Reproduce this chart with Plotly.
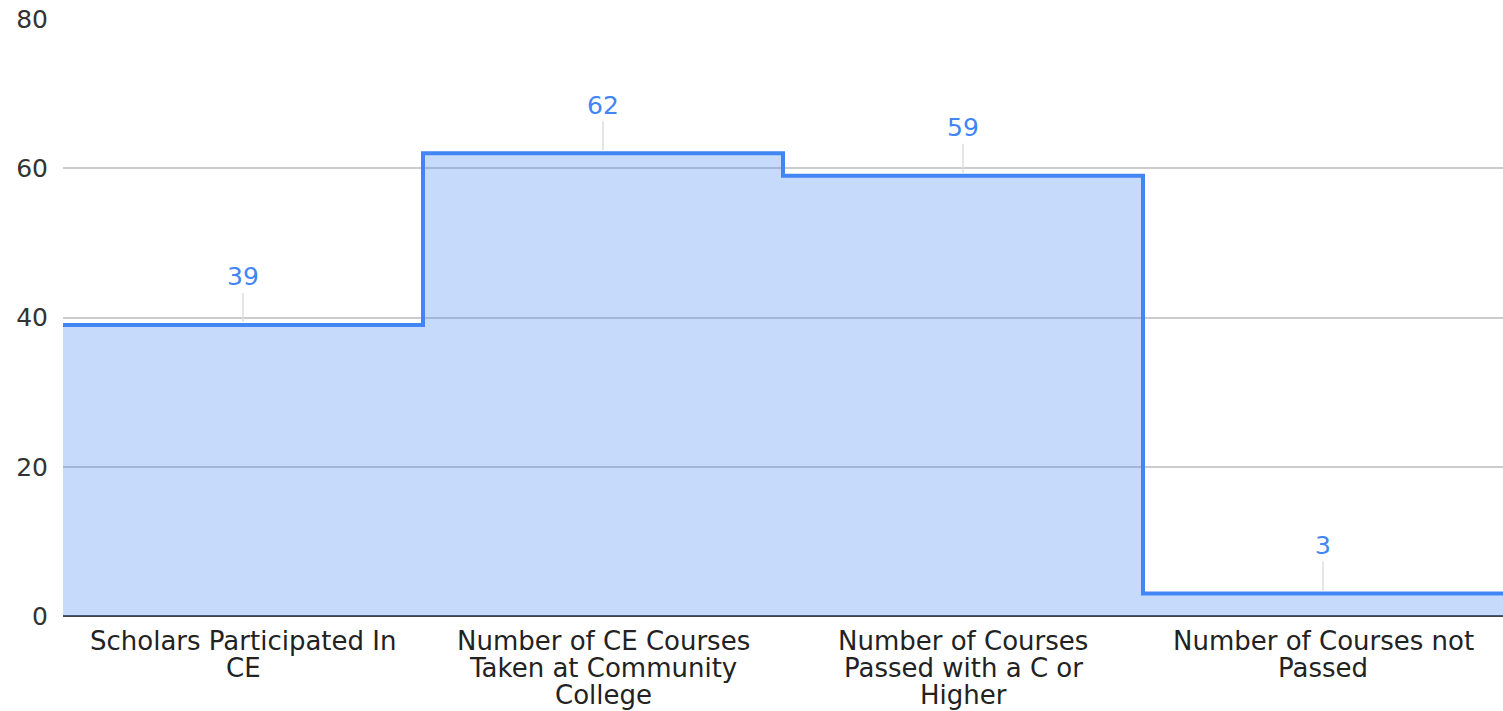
import plotly.graph_objects as go

categories = [
    "Scholars Participated In\nCE",
    "Number of CE Courses\nTaken at Community\nCollege",
    "Number of Courses\nPassed with a C or\nHigher",
    "Number of Courses not\nPassed",
]
values = [39, 62, 59, 3]
y_ticks = [0, 20, 40, 60, 80]

FONT = "DejaVu Sans"
BLUE = "#4285F4"

n = len(values)
pos = list(range(n))
# step edges: each category occupies [i-0.5, i+0.5]
step_x = [p - 0.5 for p in pos] + [pos[-1] + 0.5]
step_y = values + [values[-1]]

fig = go.Figure()
fig.add_trace(go.Scatter(
    x=step_x, y=step_y, mode="lines", line_shape="hv",
    line=dict(color=BLUE, width=4),
    fill="tozeroy", fillcolor="rgba(66,133,244,0.30)",
    hoverinfo="skip", showlegend=False,
))

annotations = []
for p, v in zip(pos, values):
    annotations.append(dict(
        x=p, y=v, xref="x", yref="y", text=str(v),
        showarrow=True, ax=0, ay=-48, arrowhead=0, arrowwidth=1.5,
        arrowcolor="#dddddd", standoff=3,
        font=dict(family=FONT, size=25, color=BLUE),
    ))
line_gap = 27
for p, label in zip(pos, categories):
    for j, line in enumerate(label.split("\n")):
        annotations.append(dict(
            x=p, y=0, xref="x", yref="paper", text=line, showarrow=False,
            xanchor="center", yanchor="middle", yshift=-(25 + j * line_gap),
            font=dict(family=FONT, size=26, color="#222222"),
        ))

fig.update_layout(
    width=1503, height=711,
    margin=dict(l=63, r=0, t=19, b=95),
    paper_bgcolor="white", plot_bgcolor="white",
    font=dict(family=FONT, size=25, color="#333333"),
    annotations=annotations,
    xaxis=dict(range=[-0.5, 3.5], showgrid=False, zeroline=False,
               showticklabels=False, ticks="", fixedrange=True),
    yaxis=dict(range=[0, 80], tickvals=y_ticks, ticks="",
               showgrid=True, gridcolor="#cccccc", gridwidth=1.5,
               zeroline=True, zerolinecolor="#444444", zerolinewidth=2,
               ticklabelstandoff=14, fixedrange=True,
               tickfont=dict(family=FONT, size=25, color="#333333")),
)

fig.write_html(
    "out.html",
    config={"displayModeBar": False},
    post_script="document.body.style.margin='0';document.body.style.overflow='hidden';",
)
